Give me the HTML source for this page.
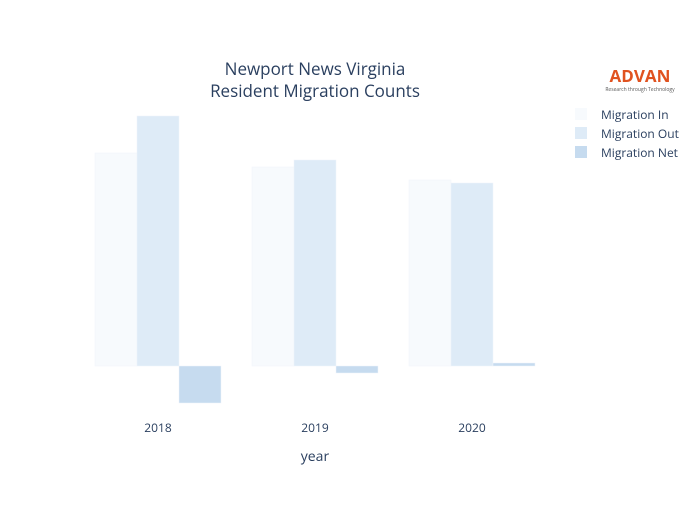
<!DOCTYPE html>
<html><head><meta charset="utf-8"><style>
body{margin:0;background:#fff}
svg{font-family:"Open Sans","Liberation Sans",sans-serif;fill:#2a3f5f}
</style></head><body>
<svg id="c" width="700" height="500">
<text x="315" y="75" text-anchor="middle" font-size="17">Newport News Virginia</text>
<text x="315" y="97" text-anchor="middle" font-size="17">Resident Migration Counts</text>
<g id="bars"></g>
<g id="xt"></g>
<text x="315" y="461" text-anchor="middle" font-size="14">year</text>
<g>
<text x="640" y="82" text-anchor="middle" font-size="17" font-weight="bold" fill="#e0521f" style="fill:#e0521f">ADVAN</text>
<text x="640" y="91" text-anchor="middle" font-size="5" style="fill:#555">Research through Technology</text>
</g>
<g id="lg"></g>
</svg>
<script>
const categories=["2018","2019","2020"];
const seriesNames=["Migration In","Migration Out","Migration Net"];
const migIn=[213,199,186];
const migOut=[250,206,183];
const migNet=[-37,-7,3];
const colors=["#f7fafd","#deebf7","#c6dbef"];
const NS="http://www.w3.org/2000/svg";
const y0=366, k=1;
function yS(v){return y0-v*k;}
function xC(i){return 158+i*157;}
const bw=42;
const series=[migIn,migOut,migNet];
const bars=document.getElementById('bars');
series.forEach((s,si)=>{s.forEach((v,i)=>{
 const r=document.createElementNS(NS,'rect');
 const x=xC(i)-1.5*bw+si*bw;
 r.setAttribute('x',x);r.setAttribute('width',bw);
 r.setAttribute('y',Math.min(yS(v),y0));r.setAttribute('height',Math.abs(yS(v)-y0));
 r.setAttribute('style','fill:'+colors[si]+';stroke:#f0f4fa;stroke-width:0.5');
 
 
 bars.appendChild(r);
});});
const xt=document.getElementById('xt');
categories.forEach((c,i)=>{
 const t=document.createElementNS(NS,'text');
 t.setAttribute('x',xC(i));t.setAttribute('y',432);t.setAttribute('text-anchor','middle');t.setAttribute('font-size','12');
 t.textContent=c;
 
 
 xt.appendChild(t);
});
const lg=document.getElementById('lg');
seriesNames.forEach((n,i)=>{
 const g=document.createElementNS(NS,'g');
 
 
 const r=document.createElementNS(NS,'rect');
 r.setAttribute('x',575);r.setAttribute('y',108+i*19);r.setAttribute('width',12);r.setAttribute('height',12);
 r.setAttribute('style','fill:'+colors[i]);
 const t=document.createElementNS(NS,'text');
 t.setAttribute('x',601);t.setAttribute('y',119+i*19);t.setAttribute('font-size','12');
 t.textContent=n;
 g.appendChild(r);g.appendChild(t);lg.appendChild(g);
});
</script>
</body></html>
